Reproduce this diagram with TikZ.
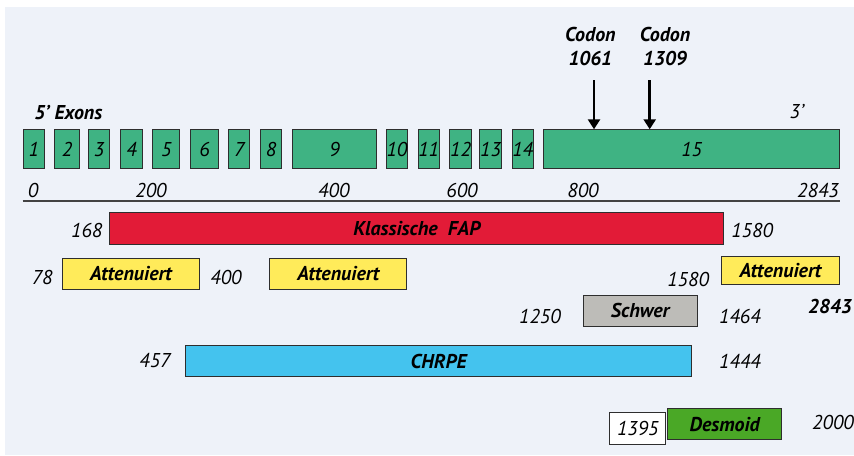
\documentclass[tikz,border=0pt]{standalone}
\usepackage{fontspec}
\setmainfont{PT Sans}
\usepackage{tikz}
\usetikzlibrary{positioning,arrows.meta}
\definecolor{panel}{HTML}{EEF2F9}
\definecolor{edge}{HTML}{2E2E2E}
\definecolor{exongreen}{HTML}{3FB383}
\definecolor{fapred}{HTML}{E21B37}
\definecolor{attyellow}{HTML}{FFEB5A}
\definecolor{severe}{HTML}{BDBCB8}
\definecolor{chrpe}{HTML}{44C3EE}
\definecolor{desmoid}{HTML}{4AA826}
\newcommand{\bi}{\bfseries\itshape}

\begin{document}
\begin{tikzpicture}[x=0.5pt, y=-0.5pt,
    font=\fontsize{9.5}{11.5}\selectfont,
    exon/.style={draw=edge, fill=exongreen, line width=0.5pt, inner sep=0pt,
      minimum height=19.5pt, anchor=north west, font=\itshape},
    bar/.style={draw=edge, line width=0.5pt, inner sep=0pt, anchor=north west, font=\bi},
    num/.style={font=\itshape, inner sep=0pt},
    codarrow/.style={line width=1.3pt, -{Triangle[length=5pt, width=6pt]}},
  ]
    \useasboundingbox (0,0) rectangle (854,455);
    \fill[panel] (5,7) rectangle (854,455);

    % exons 1-15
    \foreach \n/\a/\b in {1/22.7/44, 2/54.3/78.7, 3/88.3/109, 4/120.3/141.7,
        5/152.3/179.3, 6/190.3/217.7, 7/228.3/249.3, 8/260/281.3, 9/292/376,
        10/386/406.7, 11/417.7/438.7, 12/449.3/470.7, 13/479.3/500.7,
        14/511.7/532.7, 15/543.3/839} {
      \pgfmathsetmacro\w{(\b-\a)*0.5}
      \node[exon, minimum width=\w pt] (ex\n) at (\a,129.3) {\n};
    }
    \node[font=\bi] (five) at (68.3,112.7) {5’ Exons};
    \node[num] (three) at (796.7,111.7) {3’};

    % codons
    \node[font=\bi, align=center] (cod1) at (590.3,46.5) {Codon\\1061};
    \node[font=\bi, align=center] (cod2) at (665,46.5) {Codon\\1309};
    \coordinate (a1061) at (594,80);
    \coordinate (a1309) at (649.7,80);
    \draw[codarrow] (a1061) -- (a1061 |- ex15.north);
    \draw[codarrow] (a1309) -- (a1309 |- ex15.north);

    % axis
    \draw[edge!90, line width=0.8pt] (ex1.west |- 0,200.7) -- (ex15.east |- 0,200.7);
    \foreach \x/\t in {33/0, 151/200, 333.8/400, 462/600, 583/800, 818/2843}
      \node[num] at (\x,190) {\t};

    % phenotype bars
    \node[bar, fill=fapred, minimum width=307pt, minimum height=16pt] (fap) at (109.3,212.3) {Klassische\ \ FAP};
    \node[num, left=3.3pt of fap, yshift=-0.8pt] (fapL) {168};
    \node[num, right=3.3pt of fap, yshift=-0.8pt] (fapR) {1580};

    \node[bar, fill=attyellow, minimum width=68.5pt, minimum height=15.3pt] (att1) at (62,258) {Attenuiert};
    \node[num, left=4.5pt of att1, yshift=-1.7pt] (att1L) {78};
    \node[num, right=5pt of att1, yshift=-1.7pt] (att1R) {400};
    \node[bar, fill=attyellow, minimum width=68.5pt, minimum height=15.3pt] (att2) at (269.3,258) {Attenuiert};
    \node[bar, fill=attyellow, minimum width=59.2pt, minimum height=14pt] (att3) at (720.7,256) {Attenuiert};
    \node[num, left=5.7pt of att3, yshift=-4.5pt] (att3L) {1580};
    \node[inner sep=0pt, font=\bi] (att3R) at (830,306.7) {2843};

    \node[bar, fill=severe, minimum width=57pt, minimum height=15.7pt] (sev) at (582.7,294.7) {Schwer};
    \node[num, left=10.8pt of sev, yshift=-2.8pt] (sevL) {1250};
    \node[num, right=10.5pt of sev, yshift=-2.8pt] (sevR) {1464};

    \node[bar, fill=chrpe, minimum width=253.2pt, minimum height=15.5pt] (chr) at (185,345) {CHRPE};
    \node[num, left=7pt of chr] (chrL) {457};
    \node[num, right=13.2pt of chr] (chrR) {1444};

    \node[bar, fill=white, font=\itshape, minimum width=28pt, minimum height=15.85pt] (dsL) at (609.3,412) {\raisebox{-1.5pt}{1395}};
    \node[bar, fill=desmoid, minimum width=57.2pt, minimum height=15.7pt] (ds) at (667,408) {Desmoid};
    \node[num, right=14.7pt of ds, yshift=1pt] (dsR) {2000};
  \end{tikzpicture}
\end{document}
